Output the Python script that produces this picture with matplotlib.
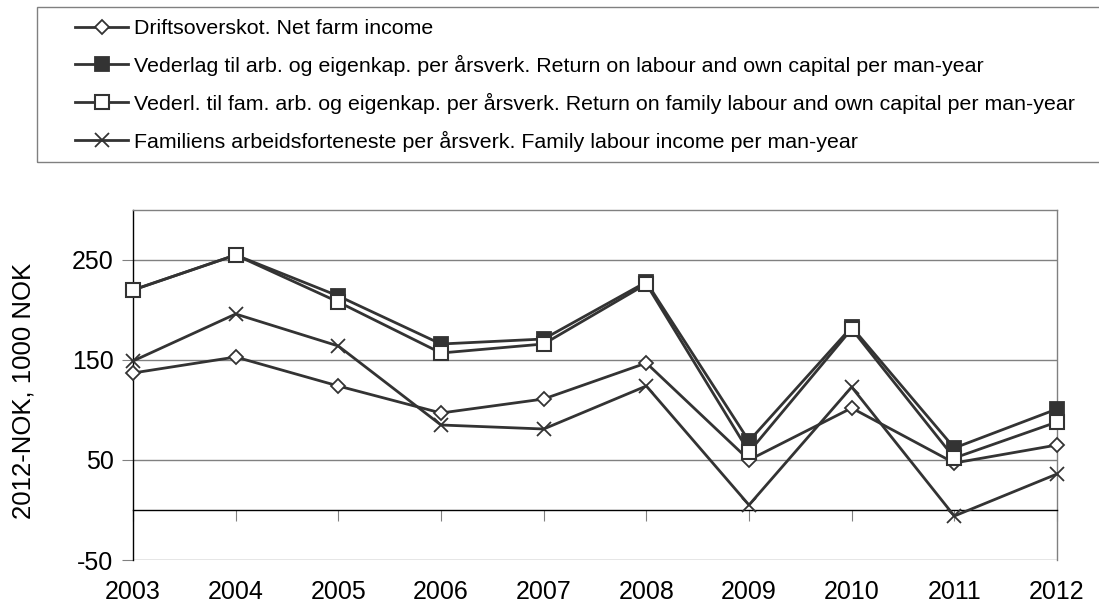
import matplotlib
matplotlib.use("Agg")
import matplotlib.pyplot as plt
from matplotlib.patches import Rectangle

plt.rcParams['font.family'] = ['Liberation Sans', 'DejaVu Sans']
plt.rcParams['axes.unicode_minus'] = False

years = [2003, 2004, 2005, 2006, 2007, 2008, 2009, 2010, 2011, 2012]
net_farm_income = [137, 153, 124, 97, 111, 147, 50, 102, 47, 65]
return_labour_capital = [220, 255, 214, 166, 171, 228, 69, 183, 62, 101]
return_family_labour = [220, 255, 208, 157, 166, 226, 58, 181, 52, 88]
family_labour_income = [149, 196, 164, 85, 81, 124, 5, 123, -6, 36]

labels = [
    "Driftsoverskot. Net farm income",
    "Vederlag til arb. og eigenkap. per årsverk. Return on labour and own capital per man-year",
    "Vederl. til fam. arb. og eigenkap. per årsverk. Return on family labour and own capital per man-year",
    "Familiens arbeidsforteneste per årsverk. Family labour income per man-year",
]
yticks = [-50, 50, 150, 250]

W, H = 1099, 608
line_col = '#333333'
grid_col = '#808080'

fig = plt.figure(figsize=(W / 100, H / 100), dpi=100)
ax = fig.add_axes([133 / W, 1 - 560 / H, (1057 - 133) / W, 350 / H])

common = dict(color=line_col, lw=2.0, clip_on=False, zorder=3)
h1, = ax.plot(years, net_farm_income, marker='D', ms=7, mfc='white',
              mec=line_col, mew=1.3, **common)
h2, = ax.plot(years, return_labour_capital, marker='s', ms=10, mfc=line_col,
              mec=line_col, mew=1.3, **common)
h3, = ax.plot(years, return_family_labour, marker='s', ms=10, mfc='white',
              mec=line_col, mew=1.5, **common)
h4, = ax.plot(years, family_labour_income, marker='x', ms=10,
              mec=line_col, mew=1.3, **common)

ax.set_xlim(2003, 2012)
ax.set_ylim(-50, 300)
ax.set_xticks(years)
ax.set_yticks(yticks)
ax.yaxis.grid(True, color=grid_col, lw=1)
ax.set_axisbelow(True)

ax.spines['bottom'].set_position(('data', 0))
ax.spines['bottom'].set_color('black')
ax.spines['left'].set_color('black')
ax.spines['top'].set_color(grid_col)
ax.spines['right'].set_color(grid_col)
for s in ax.spines.values():
    s.set_linewidth(1)

ax.tick_params(axis='y', direction='out', length=8, color=grid_col,
               labelsize=18, pad=6)
ax.tick_params(axis='x', direction='out', length=8, color=grid_col,
               labelsize=18, pad=42.5)

ax.set_ylabel("2012-NOK, 1000 NOK", fontsize=18.5)
ax.yaxis.set_label_coords(-0.105, 0.483)

# legend box at the top
fig.patches.append(Rectangle((37 / W, 1 - 162 / H), (1110 - 37) / W, 155 / H,
                             transform=fig.transFigure, fill=False,
                             edgecolor=grid_col, lw=1))
fig.legend([h1, h2, h3, h4], labels, loc='upper left',
           bbox_to_anchor=(75 / W, 1 - 19 / H), frameon=False, fontsize=15.4,
           handlelength=2.5, handletextpad=0.25, labelspacing=0.79,
           borderpad=0, borderaxespad=0)

fig.savefig("out.png", dpi=100)
